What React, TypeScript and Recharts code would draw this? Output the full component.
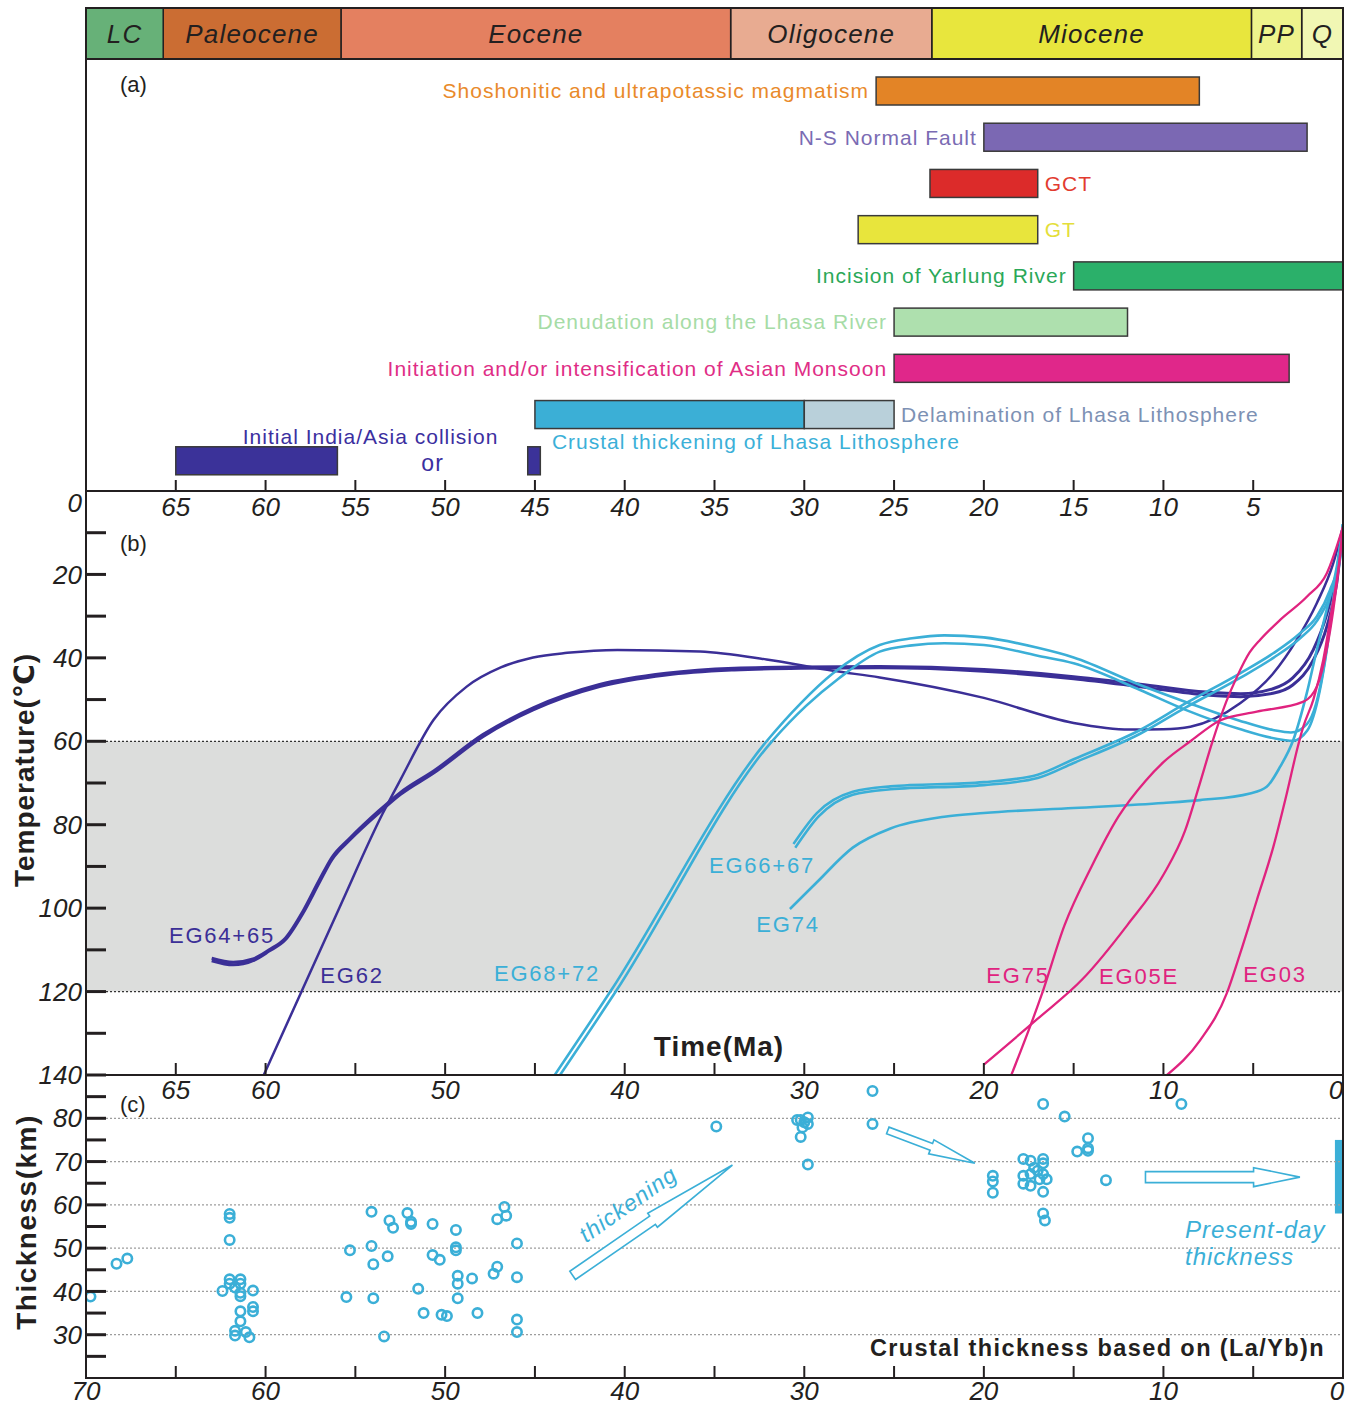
import React from 'react';
import {
  BarChart,
  Bar,
  LineChart,
  Line,
  ScatterChart,
  Scatter,
  XAxis,
  YAxis,
  ReferenceArea,
  ReferenceLine,
  LabelList,
} from 'recharts';

const W = 1357;
const H = 1406;
const PL = 86;
const PR = 1343;
const FONT = '"Liberation Sans", Arial, "DejaVu Sans", sans-serif';
const INK = '#231f20';
const DARK = '#3b2f97';
const CYAN = '#3bafd7';
const MAG = '#e0237f';

// geologic time scale, youngest first (durations in Ma)
const epochNames = ['Q', 'PP', 'Miocene', 'Oligocene', 'Eocene', 'Paleocene', 'LC'];
const epochSpans = [2.3, 2.8, 17.8, 11.2, 21.7, 9.9, 4.3];
const epochColors = ['#f1f7b4', '#eef38c', '#e8e63d', '#e8ab91', '#e48060', '#cb6d33', '#67b178'];

// (a) tectonic / surface events, ages in Ma (older, younger)
const eventNames = [
  'Shoshonitic and ultrapotassic magmatism',
  'N-S Normal Fault',
  'GCT',
  'GT',
  'Incision of Yarlung River',
  'Denudation along the Lhasa River',
  'Initiation and/or intensification of Asian Monsoon',
  'Crustal thickening of Lhasa Lithosphere',
  'Initial India/Asia collision',
];
const eventStart = [26, 20, 23, 27, 15, 25, 25, 45, 65];
const eventEnd = [8, 2, 17, 17, 0, 12, 3, 30, 56];
const extraNames = [null, null, null, null, null, null, null, 'Delamination of Lhasa Lithosphere', 'or'];
const extraStart = [null, null, null, null, null, null, null, 30, 45.4];
const extraEnd = [null, null, null, null, null, null, null, 25, 44.7];

const eventFill = ['#e38426', '#7b68b3', '#dc2b2a', '#e8e53c', '#2bb06a', '#aee0ae', '#e0278a', '#3bafd6', '#3b3299'];
const eventText = ['#e98a2a', '#7a6bb3', '#e23b2f', '#e4de3a', '#2aa858', '#a6dca6', '#e02d86', '#3bb0d8', '#3b2fa0'];
const eventSide = ['left', 'left', 'right', 'right', 'left', 'left', 'left', 'below', 'above'];
const extraFill = [null, null, null, null, null, null, null, '#b9d0da', '#3b3299'];
const extraText = [null, null, null, null, null, null, null, '#7d91b4', '#3b2fa0'];
const extraSide = [null, null, null, null, null, null, null, 'right', 'between'];

// (b) thermal history paths: [age Ma, temperature C]
const eg64 = [[63, 112.6], [61.8, 113.6], [60.7, 112.6], [59.8, 110.3], [58.9, 107.6], [57.9, 101.1], [57, 93.8], [56.3, 88.3], [55.3, 83.6], [53.7, 77.2], [52.5, 72.8], [50.6, 67.5], [47.9, 58.9], [45.1, 52.5], [41.4, 46.9], [37.7, 44.1], [33.9, 42.9], [30.2, 42.5], [25.8, 42.4], [20, 43.2], [15, 45], [11.3, 46.9], [7.6, 48.9], [5.7, 49.3], [3.9, 48.5], [2.8, 46.5], [1.65, 40.5], [0.9, 32.5], [0.35, 22.1], [0, 8.6]];
const eg65 = [[63, 112], [61.8, 113], [60.7, 112.2], [59.8, 110], [58.9, 107.2], [57.9, 100.6], [57, 93.2], [56.3, 87.8], [55.3, 83.2], [53.7, 76.7], [52.5, 72.3], [50.6, 67], [47.9, 58.4], [45.1, 52], [41.4, 46.4], [37.7, 43.7], [33.9, 42.5], [30.2, 42.2], [25.8, 42.1], [20, 42.8], [15, 44.5], [11.3, 46.3], [7.6, 48.2], [5.7, 48.6], [3.9, 47.4], [2.8, 44.8], [1.65, 38], [0.9, 29.5], [0.35, 19.5], [0, 8.6]];
const eg62 = [[60.1, 140], [55.9, 100], [53.5, 77.5], [52.5, 69.3], [50.65, 54.9], [48.8, 46.9], [46.9, 42.3], [45.1, 39.9], [43.2, 38.8], [40.4, 38.1], [35.8, 38.5], [32.1, 40.4], [28.4, 43.1], [25.8, 44.7], [20, 49.6], [15, 55.6], [11.9, 57.2], [10, 57.1], [8.5, 56.5], [5.73, 50.9], [3.88, 43.7], [2.58, 35.7], [1.46, 26.9], [0.54, 17.3], [0, 8.6]];
const eg68 = [[43.9, 140], [40.8, 120], [32.1, 60], [30.2, 50.9], [28.4, 43.7], [25.8, 36.9], [24, 35.3], [22.2, 34.6], [20, 35.1], [17, 37.6], [15, 39.9], [11.3, 46.5], [8.8, 50.5], [5.8, 55], [3.9, 57.3], [2.9, 57.9], [2.0, 55.8], [1.5, 51], [1.1, 43], [0.6, 28], [0, 8]];
const eg72 = [[43.6, 140], [40.5, 120], [31.8, 60], [29.9, 51.5], [28.1, 45], [25.8, 38.5], [24, 37], [22.2, 36.5], [20, 36.9], [17, 39.5], [15, 41.3], [11.3, 47.7], [8.8, 52.4], [5.8, 57], [3.3, 59.7], [2.8, 59.9], [2.0, 57.5], [1.3, 48], [0.9, 38], [0.5, 25], [0, 8]];
const eg66 = [[30.6, 84.6], [29.3, 77.2], [27.3, 72.1], [25.2, 70.8], [20, 69.8], [17, 68], [15, 64.3], [11.3, 57.3], [8.8, 51], [5.73, 43.7], [3.88, 38.9], [2.39, 34.1], [1.46, 30.1], [0.72, 23.7], [0.17, 15.8], [0, 8]];
const eg67 = [[30.5, 85.5], [29.2, 78], [27.3, 72.8], [25.2, 71.5], [20, 70.5], [17, 68.8], [15, 65.2], [11.3, 58.2], [8.8, 52], [5.73, 44.8], [3.88, 40], [2.39, 35.3], [1.46, 31.2], [0.72, 25], [0.17, 16.5], [0, 8]];
const eg74 = [[30.8, 100.2], [29.3, 93.8], [27.3, 85.5], [25.2, 80.9], [22.2, 78.1], [20, 77.2], [15, 76], [10, 74.8], [7.96, 74.1], [5.18, 72.5], [4.25, 70.9], [3.5, 66.1], [2.77, 59.7], [2.02, 48.5], [1.46, 38.1], [0.91, 28.5], [0.35, 18.2], [0, 8]];
const eg75 = [[18.47, 140], [16.8, 121], [15.5, 104], [14, 90], [12.5, 78], [11, 69.5], [10, 65], [8.5, 60], [6.85, 55], [4.8, 52.9], [2.2, 50.5], [1.46, 46.9], [0.91, 38.1], [0.54, 28.5], [0.17, 15.8], [0, 8.6]];
const eg05e = [[20, 137.5], [17, 126.5], [14.5, 117], [12, 104], [10, 92], [8.8, 81.5], [8, 70.5], [7.3, 60.5], [6.5, 50.5], [5.9, 44.5], [5.2, 38.7], [4.6, 35.6], [3.5, 30.9], [2.0, 25.3], [0.9, 19.7], [0, 8.6]];
const eg03 = [[9.8, 140], [7.96, 131.7], [6.48, 120.5], [5.73, 110.9], [4.8, 98.1], [3.88, 85.3], [3.13, 72.5], [2.5, 61], [2.21, 56.5], [1.65, 50], [1.1, 40.5], [0.63, 28.5], [0.17, 15.8], [0, 8.6]];

// (c) crustal thickness estimates: age Ma, thickness km
const thickAge = [69.75, 68.3, 67.7, 62.0, 62.0, 62.0, 62.4, 62.0, 62.0, 61.4, 61.4, 61.7, 61.4, 61.4, 60.7, 61.4, 60.7, 60.7, 61.4, 61.7, 61.7, 61.1, 60.9, 55.3, 55.5, 54.1, 54.1, 54.0, 54.0, 53.2, 53.4, 53.1, 52.9, 52.1, 51.9, 51.9, 50.7, 51.5, 51.2, 50.7, 50.3, 50.2, 49.9, 49.4, 49.4, 49.4, 49.3, 49.3, 49.3, 48.5, 48.2, 47.3, 47.1, 47.1, 46.7, 46.6, 46.0, 46.0, 46.0, 46.0, 34.9, 30.4, 30.2, 29.8, 29.8, 30.1, 30.0, 30.2, 29.8, 26.2, 26.2, 19.5, 19.5, 19.5, 17.8, 17.4, 16.7, 16.7, 17.8, 17.8, 17.4, 17.4, 17.0, 16.7, 16.5, 16.7, 16.7, 16.6, 17.2, 16.9, 16.7, 15.5, 14.2, 14.2, 14.8, 14.2, 13.2, 9.0];
const thickKm = [38.8, 46.4, 47.6, 57.9, 57.0, 51.9, 40.1, 42.8, 41.8, 42.8, 41.8, 40.9, 39.7, 38.9, 40.2, 35.4, 36.4, 35.4, 33.1, 30.9, 29.8, 30.6, 29.4, 49.5, 38.7, 58.4, 50.5, 46.3, 38.4, 48.1, 29.6, 56.4, 54.7, 58.1, 56.1, 55.6, 55.6, 40.6, 35.0, 48.4, 47.3, 34.6, 34.3, 54.2, 50.2, 49.5, 43.6, 41.8, 38.4, 43.0, 35.0, 44.1, 45.7, 56.7, 59.5, 57.5, 51.1, 43.3, 33.5, 30.6, 78.1, 79.6, 79.6, 80.2, 78.7, 77.9, 79.1, 75.7, 69.3, 86.3, 78.7, 66.7, 65.4, 62.8, 70.6, 70.2, 70.6, 69.6, 66.7, 64.9, 67.1, 64.4, 67.9, 67.1, 65.9, 63.0, 58.0, 56.4, 68.6, 65.9, 83.3, 80.4, 75.4, 73.1, 72.3, 72.5, 65.7, 83.3];
const presentDayKm = [58, 75];

// hollow arrows in panel (c): tail and tip as [age Ma, km]
const arrowTails = [[42.9, 43.7], [25.35, 77.2], [11.0, 66.4]];
const arrowTips = [[34.0, 69.2], [20.5, 69.6], [2.4, 66.4]];

const ageTicks = [65, 60, 55, 50, 45, 40, 35, 30, 25, 20, 15, 10, 5];
const tempTicks = [0, 10, 20, 30, 40, 50, 60, 70, 80, 90, 100, 110, 120, 130, 140];
const kmTicks = [25, 30, 35, 40, 45, 50, 55, 60, 65, 70, 75, 80, 85];
const kmGrid = [30, 40, 50, 60, 70, 80];
const midAgeLabels = [65, 60, 50, 40, 30, 20, 10, 0];

const xOf = (ma: number) => PL + ((70 - ma) / 70) * (PR - PL);
const yC = (km: number) => 1075 + ((90 - km) / 70) * 303;

const epochRow: any = { row: 'epoch' };
epochNames.forEach((n, i) => (epochRow[n] = epochSpans[i]));

const eventRows = eventNames.map((name, i) => ({
  name,
  span: [eventStart[i], eventEnd[i]],
  extra: extraStart[i] != null ? [extraStart[i], extraEnd[i]] : null,
}));

const toPts = (arr: number[][]) => arr.map(([ma, t]) => ({ ma, t }));
const series = [
  { key: 'EG64', data: eg64, color: DARK, w: 3 },
  { key: 'EG65', data: eg65, color: DARK, w: 3 },
  { key: 'EG62', data: eg62, color: DARK, w: 2.5 },
  { key: 'EG68', data: eg68, color: CYAN, w: 2.6 },
  { key: 'EG72', data: eg72, color: CYAN, w: 2.6 },
  { key: 'EG66', data: eg66, color: CYAN, w: 2.6 },
  { key: 'EG67', data: eg67, color: CYAN, w: 2.6 },
  { key: 'EG74', data: eg74, color: CYAN, w: 2.6 },
  { key: 'EG75', data: eg75, color: MAG, w: 2.3 },
  { key: 'EG05E', data: eg05e, color: MAG, w: 2.3 },
  { key: 'EG03', data: eg03, color: MAG, w: 2.3 },
];

const thickPts = thickAge.map((ma, i) => ({ ma, km: thickKm[i] }));

const numStyle = { fontFamily: FONT, fontStyle: 'italic', fontSize: 26, fill: INK } as const;

const topAxisTick = (p: any) => (
  <g>
    <line x1={p.x} x2={p.x} y1={p.y} y2={p.y - 11} stroke={INK} strokeWidth={2} />
    <text x={p.x} y={p.y + 16} dy="0.35em" textAnchor="middle" {...numStyle}>
      {p.payload.value}
    </text>
  </g>
);

const midAxisTick = (p: any) => {
  const v = p.payload.value;
  return (
    <g>
      {v !== 0 && <line x1={p.x} x2={p.x} y1={p.y} y2={p.y - 12} stroke={INK} strokeWidth={2} />}
      {midAgeLabels.includes(v) && (
        <text x={v === 0 ? p.x - 7 : p.x} y={p.y + 15} dy="0.35em" textAnchor="middle" {...numStyle}>
          {v}
        </text>
      )}
    </g>
  );
};

const bottomAxisTick = (p: any) => {
  const v = p.payload.value;
  return (
    <g>
      {v !== 0 && v !== 70 && <line x1={p.x} x2={p.x} y1={p.y} y2={p.y - 12} stroke={INK} strokeWidth={2} />}
      {v % 10 === 0 && (
        <text x={v === 0 ? p.x - 6 : p.x} y={p.y + 13} dy="0.35em" textAnchor="middle" {...numStyle}>
          {v}
        </text>
      )}
    </g>
  );
};

const tempTick = (p: any) => {
  const v = p.payload.value;
  return (
    <g>
      {v !== 0 && <line x1={p.x} x2={p.x + 20} y1={p.y} y2={p.y} stroke={INK} strokeWidth={3} />}
      {v % 20 === 0 && (
        <text x={p.x - 4} y={v === 0 ? p.y + 12 : p.y} dy="0.35em" textAnchor="end" {...numStyle}>
          {v}
        </text>
      )}
    </g>
  );
};

const kmTick = (p: any) => {
  const v = p.payload.value;
  return (
    <g>
      <line x1={p.x} x2={p.x + 20} y1={p.y} y2={p.y} stroke={INK} strokeWidth={3} />
      {v % 10 === 0 && (
        <text x={p.x - 4} y={p.y} dy="0.35em" textAnchor="end" {...numStyle}>
          {v}
        </text>
      )}
    </g>
  );
};

const epochLabel = (name: string) => (p: any) => {
  const vb = p.viewBox ?? p;
  if (vb == null || vb.x == null) return null;
  return (
    <text
      x={vb.x + vb.width / 2}
      y={vb.y + vb.height / 2}
      dy="0.35em"
      textAnchor="middle"
      fontFamily={FONT}
      fontStyle="italic"
      fontSize={26}
      letterSpacing={1.2}
      fill={INK}
    >
      {name}
    </text>
  );
};

const eventShape = (which: 'span' | 'extra') => (p: any) => {
  const row = p.payload;
  if (!row || !row[which]) return <g />;
  const i = eventNames.indexOf(row.name);
  const x = Math.min(p.x, p.x + p.width);
  return (
    <rect
      x={x}
      y={p.y}
      width={Math.abs(p.width)}
      height={p.height}
      fill={which === 'span' ? eventFill[i] : (extraFill[i] as string)}
      stroke="#3a3a3a"
      strokeWidth={1.5}
    />
  );
};

// rows of the second series are found from where their bar starts
const extraRowAt = (left: number) =>
  extraStart.findIndex((s) => s != null && Math.abs(xOf(s) - left) < 3);

const eventLabel = (which: 'span' | 'extra') => (p: any) => {
  const vb = p.viewBox ?? p;
  if (vb == null || vb.x == null || Number.isNaN(vb.x) || Number.isNaN(vb.width)) return null;
  const left = Math.min(vb.x, vb.x + vb.width);
  const right = Math.max(vb.x, vb.x + vb.width);
  const top = Math.min(vb.y, vb.y + vb.height);
  const bottom = top + Math.abs(vb.height);
  const cy = (top + bottom) / 2;
  const common = { fontFamily: FONT, fontSize: 21, letterSpacing: 1 };
  if (which === 'span') {
    const i = p.index;
    if (i == null || !eventNames[i]) return null;
    const side = eventSide[i];
    const fill = eventText[i];
    const name = eventNames[i];
    if (side === 'left')
      return <text x={left - 7} y={cy} dy="0.35em" textAnchor="end" fill={fill} {...common}>{name}</text>;
    if (side === 'right')
      return <text x={right + 7} y={cy} dy="0.35em" textAnchor="start" fill={fill} {...common}>{name}</text>;
    if (side === 'below')
      return <text x={left + 17} y={bottom + 13} dy="0.35em" textAnchor="start" fill={fill} {...common}>{name}</text>;
    return <text x={left + 67} y={top - 10} dy="0.35em" textAnchor="start" fill={fill} {...common}>{name}</text>;
  }
  const i = extraRowAt(left);
  if (i < 0) return null;
  const fill = extraText[i] as string;
  const name = extraNames[i] as string;
  if (extraSide[i] === 'right')
    return <text x={right + 7} y={cy} dy="0.35em" textAnchor="start" fill={fill} {...common}>{name}</text>;
  return (
    <text x={(xOf(eventEnd[i]) + left) / 2} y={cy + 2} dy="0.35em" textAnchor="middle" fill={fill} {...common} fontSize={23}>
      {name}
    </text>
  );
};

const ring = (p: any) => <circle cx={p.cx} cy={p.cy} r={4.7} fill="none" stroke={CYAN} strokeWidth={2.6} />;

const arrowPoints = (tail: number[], tip: number[], shaft: number, head: number, headFrac: number) => {
  const x0 = xOf(tail[0]);
  const y0 = yC(tail[1]);
  const x1 = xOf(tip[0]);
  const y1 = yC(tip[1]);
  const dx = x1 - x0;
  const dy = y1 - y0;
  const len = Math.hypot(dx, dy);
  const nx = -dy / len;
  const ny = dx / len;
  const bx = x1 - dx * headFrac;
  const by = y1 - dy * headFrac;
  const pts = [
    [x0 + nx * shaft, y0 + ny * shaft],
    [bx + nx * shaft, by + ny * shaft],
    [bx + nx * head, by + ny * head],
    [x1, y1],
    [bx - nx * head, by - ny * head],
    [bx - nx * shaft, by - ny * shaft],
    [x0 - nx * shaft, y0 - ny * shaft],
  ];
  return pts.map((q) => q.join(',')).join(' ');
};
const arrowStyle = [
  { shaft: 5, head: 8.5, frac: 0.5 },
  { shaft: 3.5, head: 7.5, frac: 0.5 },
  { shaft: 5.5, head: 9.5, frac: 0.3 },
];

const egLabels = [
  { text: 'EG64+65', x: 222, y: 935, color: DARK },
  { text: 'EG62', x: 352, y: 975, color: DARK },
  { text: 'EG68+72', x: 547, y: 973, color: CYAN },
  { text: 'EG66+67', x: 762, y: 865, color: CYAN },
  { text: 'EG74', x: 788, y: 924, color: CYAN },
  { text: 'EG75', x: 1018, y: 975, color: MAG },
  { text: 'EG05E', x: 1139, y: 976, color: MAG },
  { text: 'EG03', x: 1275, y: 974, color: MAG },
];

const abs: React.CSSProperties = { position: 'absolute', left: 0, top: 0 };

export default function App() {
  return (
    <div style={{ position: 'relative', width: W, height: H, background: '#fff', fontFamily: FONT }}>
      <style>{'body{margin:0}'}</style>

      {/* (a) events */}
      <div style={abs}>
        <BarChart
          layout="vertical"
          width={W}
          height={H}
          data={eventRows}
          margin={{ top: 59, right: W - PR, bottom: H - 491 - 20, left: PL }}
          barSize={28}
          barGap={-28}
        >
          <XAxis
            type="number"
            domain={[0, 70]}
            reversed
            allowDataOverflow
            ticks={ageTicks}
            interval={0}
            tickSize={0}
            tickMargin={0}
            tickLine={false}
            axisLine={false}
            height={20}
            tick={topAxisTick}
          />
          <YAxis type="category" dataKey="name" hide padding={{ top: 9, bottom: 7 }} />
          <Bar dataKey="span" shape={eventShape('span')} isAnimationActive={false}>
            <LabelList content={eventLabel('span')} />
          </Bar>
          <Bar dataKey="extra" shape={eventShape('extra')} isAnimationActive={false}>
            <LabelList content={eventLabel('extra')} />
          </Bar>
        </BarChart>
      </div>

      {/* time scale header */}
      <div style={abs}>
        <BarChart
          layout="vertical"
          width={W}
          height={59}
          data={[epochRow]}
          margin={{ top: 8, right: W - PR, bottom: 0, left: PL }}
          barCategoryGap={0}
        >
          <XAxis type="number" domain={[0, 70]} reversed hide />
          <YAxis type="category" dataKey="row" hide />
          {epochNames.map((n, i) => (
            <Bar key={n} dataKey={n} stackId="t" fill={epochColors[i]} stroke={INK} strokeWidth={1.5} isAnimationActive={false}>
              <LabelList content={epochLabel(n)} />
            </Bar>
          ))}
        </BarChart>
      </div>

      {/* (b) temperature-time paths */}
      <div style={abs}>
        <LineChart width={W} height={H} margin={{ top: 491, right: W - PR, bottom: H - 1075 - 20, left: PL - 1 }}>
          <XAxis
            type="number"
            dataKey="ma"
            domain={[0, 70]}
            reversed
            allowDataOverflow
            ticks={[...ageTicks, 0]}
            interval={0}
            tickSize={0}
            tickMargin={0}
            tickLine={false}
            axisLine={false}
            height={20}
            tick={midAxisTick}
          />
          <YAxis
            type="number"
            domain={[0, 140]}
            reversed
            allowDataOverflow
            ticks={tempTicks}
            interval={0}
            width={1}
            tickSize={0}
            tickMargin={0}
            tickLine={false}
            axisLine={false}
            tick={tempTick}
          />
          <ReferenceArea y1={60} y2={120} fill="#dcdddc" fillOpacity={1} stroke="none" />
          <ReferenceLine y={60} stroke="#333" strokeWidth={1.3} strokeDasharray="2 2" />
          <ReferenceLine y={120} stroke="#333" strokeWidth={1.3} strokeDasharray="2 2" />
          {series.map((s) => (
            <Line
              key={s.key}
              name={s.key}
              data={toPts(s.data)}
              dataKey="t"
              type="monotone"
              stroke={s.color}
              strokeWidth={s.w}
              dot={false}
              activeDot={false}
              isAnimationActive={false}
            />
          ))}
        </LineChart>
      </div>

      {/* (c) crustal thickness */}
      <div style={abs}>
        <ScatterChart width={W} height={H} margin={{ top: 1075, right: W - PR, bottom: H - 1378 - 20, left: PL - 1 }}>
          <XAxis
            type="number"
            dataKey="ma"
            domain={[0, 70]}
            reversed
            allowDataOverflow
            ticks={[70, ...ageTicks, 0]}
            interval={0}
            tickSize={0}
            tickMargin={0}
            tickLine={false}
            axisLine={false}
            height={20}
            tick={bottomAxisTick}
          />
          <YAxis
            type="number"
            dataKey="km"
            domain={[20, 90]}
            allowDataOverflow
            ticks={kmTicks}
            interval={0}
            width={1}
            tickSize={0}
            tickMargin={0}
            tickLine={false}
            axisLine={false}
            tick={kmTick}
          />
          {kmGrid.map((v) => (
            <ReferenceLine key={v} y={v} stroke="#9d9d9d" strokeWidth={1.2} strokeDasharray="2 2" />
          ))}
          <ReferenceArea x1={0.45} x2={0} y1={presentDayKm[0]} y2={presentDayKm[1]} fill={CYAN} fillOpacity={1} stroke="none" />
          <Scatter data={thickPts} shape={ring} isAnimationActive={false} />
        </ScatterChart>
      </div>

      {/* frames, titles and annotations */}
      <svg width={W} height={H} style={{ ...abs, pointerEvents: 'none' }}>
        <rect x={PL} y={8} width={PR - PL} height={51} fill="none" stroke={INK} strokeWidth={2} />
        <rect x={PL} y={59} width={PR - PL} height={432} fill="none" stroke={INK} strokeWidth={2} />
        <rect x={PL} y={491} width={PR - PL} height={584} fill="none" stroke={INK} strokeWidth={2} />
        <rect x={PL} y={1075} width={PR - PL} height={303} fill="none" stroke={INK} strokeWidth={2} />

        <g fontFamily={FONT} fontSize={22} fill={INK}>
          <text x={120} y={84} dy="0.35em">(a)</text>
          <text x={120} y={543} dy="0.35em">(b)</text>
          <text x={120} y={1104} dy="0.35em">(c)</text>
        </g>

        {egLabels.map((l) => (
          <text key={l.text} x={l.x} y={l.y} dy="0.35em" textAnchor="middle" fontFamily={FONT} fontSize={22} letterSpacing={1.8} fill={l.color}>
            {l.text}
          </text>
        ))}

        <text x={719} y={1046} dy="0.35em" textAnchor="middle" fontFamily={FONT} fontWeight="bold" fontSize={28} letterSpacing={1} fill={INK}>
          Time(Ma)
        </text>
        <text transform="translate(24,770) rotate(-90)" dy="0.35em" textAnchor="middle" fontFamily={FONT} fontWeight="bold" fontSize={28} letterSpacing={1} fill={INK}>
          Temperature(℃)
        </text>
        <text transform="translate(26,1222) rotate(-90)" dy="0.35em" textAnchor="middle" fontFamily={FONT} fontWeight="bold" fontSize={28} letterSpacing={1.5} fill={INK}>
          Thickness(km)
        </text>
        <text x={1325} y={1348} dy="0.35em" textAnchor="end" fontFamily={FONT} fontWeight="bold" fontSize={23.5} letterSpacing={1.4} fill={INK}>
          Crustal thickness based on (La/Yb)n
        </text>

        {arrowTails.map((t, i) => (
          <polygon
            key={i}
            points={arrowPoints(t, arrowTips[i], arrowStyle[i].shaft, arrowStyle[i].head, arrowStyle[i].frac)}
            fill="#fff"
            stroke={CYAN}
            strokeWidth={1.6}
            strokeLinejoin="miter"
          />
        ))}
        <text transform="translate(628,1204) rotate(-35)" dy="0.35em" textAnchor="middle" fontFamily={FONT} fontStyle="italic" fontSize={23} letterSpacing={1} fill={CYAN}>
          thickening
        </text>
        <g fontFamily={FONT} fontStyle="italic" fontSize={24} letterSpacing={1} fill={CYAN}>
          <text x={1185} y={1230} dy="0.35em">Present-day</text>
          <text x={1185} y={1257} dy="0.35em">thickness</text>
        </g>
      </svg>
    </div>
  );
}
